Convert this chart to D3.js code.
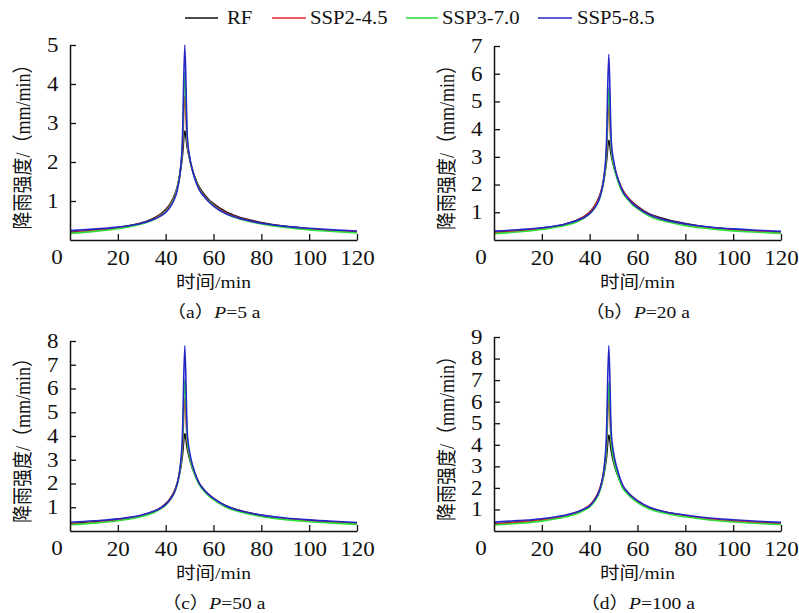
<!DOCTYPE html>
<html><head><meta charset="utf-8">
<script src="https://cdn.jsdelivr.net/npm/d3@7"></script>
<style>
body{margin:0;background:#fff;}
text{font-family:"Liberation Serif","Times New Roman","Noto Sans CJK SC",serif;fill:#111;}
</style></head>
<body><svg id="chart" width="799" height="613"></svg>
<script>
// ---------- DATA ----------
const seriesNames = ["RF", "SSP2-4.5", "SSP3-7.0", "SSP5-8.5"];
const times = [0,10,20,30,35,38,40,42,44,45,46,47,48,49,50,51,52,54,56,58,60,65,70,80,90,100,110,120];
const xTicks = [20,40,60,80,100,120];
const panelCaptions = ["a","b","c","d"];
const returnPeriods = ["5","20","50","100"];
const yMaxes = [5,7,8,9];

// Panel (a) P=5 a
const rfA   = [0.20,0.25,0.32,0.44,0.56,0.67,0.78,0.94,1.20,1.40,1.70,2.15,2.80,2.38,2.08,1.84,1.65,1.36,1.18,1.04,0.93,0.73,0.60,0.45,0.35,0.29,0.24,0.21];
const s245A = [0.19,0.24,0.31,0.43,0.54,0.65,0.75,0.91,1.17,1.38,1.72,2.30,3.70,2.50,2.10,1.83,1.63,1.33,1.15,1.01,0.90,0.70,0.58,0.43,0.34,0.28,0.24,0.20];
const s370A = [0.17,0.22,0.29,0.41,0.52,0.63,0.73,0.89,1.14,1.36,1.72,2.42,4.30,2.58,2.11,1.83,1.62,1.31,1.13,1.00,0.88,0.68,0.56,0.41,0.32,0.26,0.22,0.18];
const s585A = [0.24,0.28,0.33,0.43,0.53,0.62,0.71,0.86,1.10,1.32,1.70,2.55,5.00,2.70,2.14,1.84,1.61,1.29,1.12,0.98,0.87,0.68,0.57,0.43,0.35,0.30,0.26,0.23];
// Panel (b) P=20 a
const rfB   = [0.28,0.34,0.43,0.58,0.73,0.87,1.01,1.22,1.56,1.82,2.20,2.80,3.60,3.06,2.68,2.39,2.15,1.77,1.53,1.36,1.21,0.94,0.79,0.59,0.46,0.39,0.33,0.29];
const s245B = [0.26,0.32,0.41,0.57,0.71,0.86,0.99,1.20,1.54,1.82,2.27,3.04,4.90,3.30,2.77,2.42,2.15,1.76,1.53,1.34,1.19,0.92,0.76,0.57,0.45,0.37,0.32,0.27];
const s370B = [0.23,0.29,0.38,0.53,0.67,0.81,0.94,1.14,1.46,1.74,2.20,3.10,5.50,3.35,2.71,2.34,2.07,1.67,1.45,1.27,1.13,0.86,0.71,0.52,0.41,0.33,0.28,0.24];
const s585B = [0.32,0.37,0.44,0.58,0.71,0.83,0.95,1.15,1.47,1.77,2.28,3.42,6.70,3.62,2.87,2.45,2.16,1.73,1.50,1.31,1.17,0.91,0.76,0.58,0.47,0.40,0.35,0.31];
// Panel (c) P=50 a
const rfC   = [0.31,0.39,0.49,0.65,0.82,0.98,1.15,1.38,1.76,2.06,2.50,3.16,4.10,3.48,3.04,2.70,2.43,2.00,1.74,1.53,1.37,1.07,0.89,0.66,0.52,0.43,0.37,0.33];
const s245C = [0.29,0.36,0.47,0.65,0.82,0.98,1.13,1.37,1.77,2.08,2.60,3.47,5.60,3.78,3.16,2.77,2.47,2.01,1.74,1.53,1.36,1.05,0.87,0.65,0.51,0.42,0.36,0.30];
const s370C = [0.26,0.33,0.43,0.61,0.77,0.94,1.09,1.33,1.70,2.03,2.56,3.61,6.40,3.88,3.15,2.73,2.42,1.95,1.69,1.48,1.32,1.01,0.83,0.61,0.48,0.39,0.33,0.28];
const s585C = [0.37,0.43,0.51,0.67,0.83,0.97,1.11,1.34,1.72,2.06,2.65,3.98,7.80,4.20,3.33,2.86,2.52,2.02,1.74,1.53,1.37,1.06,0.88,0.67,0.55,0.47,0.41,0.36];
// Panel (d) P=100 a
const rfD   = [0.33,0.41,0.52,0.69,0.88,1.03,1.17,1.43,1.84,2.17,2.65,3.38,4.45,3.72,3.20,2.81,2.51,1.99,1.73,1.53,1.37,1.06,0.91,0.71,0.55,0.46,0.40,0.35];
const s245D = [0.31,0.40,0.51,0.71,0.88,1.05,1.20,1.46,1.90,2.26,2.84,3.82,6.20,4.15,3.43,2.97,2.62,2.06,1.79,1.57,1.40,1.09,0.92,0.71,0.56,0.46,0.40,0.33];
const s370D = [0.28,0.35,0.46,0.66,0.81,0.98,1.12,1.37,1.78,2.15,2.73,3.87,6.90,4.15,3.35,2.87,2.51,1.97,1.70,1.49,1.32,1.02,0.86,0.66,0.51,0.42,0.35,0.30];
const s585D = [0.41,0.48,0.57,0.74,0.89,1.04,1.17,1.43,1.85,2.24,2.90,4.39,8.60,4.62,3.62,3.09,2.69,2.08,1.79,1.57,1.41,1.10,0.93,0.74,0.60,0.52,0.45,0.40];

const panelSeries = [
  [rfA, s245A, s370A, s585A],
  [rfB, s245B, s370B, s585B],
  [rfC, s245C, s370C, s585C],
  [rfD, s245D, s370D, s585D]
];

// ---------- STYLE / LAYOUT ----------
const colors = ["#111111", "#e8262a", "#2ee03a", "#2626c8"];
const SX = 1.15; // horizontal stretch of the scanned figure
const layout = [
  {x0:70,  x1:357, yTop:45,  yBot:240},
  {x0:494, x1:781, yTop:46,  yBot:240},
  {x0:70,  x1:357, yTop:341, yBot:531},
  {x0:494, x1:781, yTop:337, yBot:531}
];

const svg = d3.select("#chart");

layout.forEach((L, i) => {
  const x = d3.scaleLinear().domain([0,120]).range([L.x0, L.x1]);
  const y = d3.scaleLinear().domain([0,yMaxes[i]]).range([L.yBot, L.yTop]);
  const g = svg.append("g");

  // lines
  const line = d3.line().x((d,k)=>x(times[k])).y(d=>y(d)).curve(d3.curveMonotoneX);
  panelSeries[i].forEach((vals, s) => {
    g.append("path").datum(vals).attr("d", line)
      .attr("fill","none").attr("stroke",colors[s]).attr("stroke-width",1.6)
      .attr("stroke-linejoin","round");
  });

  // x axis
  const xa = g.append("g").attr("transform",`translate(0,${L.yBot})`)
    .call(d3.axisBottom(x).tickValues(xTicks).tickFormat(d3.format("d"))
      .tickSizeInner(-6).tickSizeOuter(0).tickPadding(11));
  // y axis
  const ya = g.append("g").attr("transform",`translate(${L.x0},0)`)
    .call(d3.axisLeft(y).tickValues(d3.range(1, yMaxes[i]+1)).tickFormat(d3.format("d"))
      .tickSizeInner(-6).tickSizeOuter(0).tickPadding(10));
  [xa, ya].forEach(a => {
    a.select(".domain").attr("stroke","#111").attr("stroke-width",1.5);
    a.selectAll(".tick line").attr("stroke","#111").attr("stroke-width",1.3);
    a.selectAll(".tick text").attr("font-size",20).attr("fill","#111")
      .attr("transform",`scale(${SX},1)`);
  });
  // origin label "0"
  g.append("text").attr("transform",`translate(${L.x0-13},${L.yBot+18}) scale(${SX},1)`)
    .attr("text-anchor","middle").attr("dominant-baseline","central")
    .attr("font-size",20).text("0");

  const cx = (L.x0 + L.x1)/2;
  // x axis title
  g.append("text").attr("transform",`translate(${cx},${L.yBot+42}) scale(${SX},1)`)
    .attr("text-anchor","middle").attr("dominant-baseline","central")
    .attr("font-size",17).text("时间/min");
  // caption
  const cap = g.append("text").attr("transform",`translate(${cx},${L.yBot+72}) scale(${SX},1)`)
    .attr("text-anchor","middle").attr("dominant-baseline","central").attr("font-size",17);
  cap.append("tspan").text(`（${panelCaptions[i]}）`);
  cap.append("tspan").attr("font-style","italic").text("P");
  cap.append("tspan").text(`=${returnPeriods[i]} a`);
  // y axis title
  g.append("text").attr("transform",`translate(${L.x0-47},${(L.yTop+L.yBot)/2}) rotate(-90) scale(1,${SX})`)
    .attr("text-anchor","middle").attr("dominant-baseline","central")
    .attr("font-size",18).text("降雨强度/（mm/min）");
});

// legend
const legendItems = [
  {lx0:185, lx1:218, tx:227},
  {lx0:272, lx1:306, tx:310},
  {lx0:406, lx1:438, tx:442},
  {lx0:538, lx1:572, tx:577}
];
const legY = 18;
seriesNames.forEach((name, s) => {
  const it = legendItems[s];
  svg.append("line").attr("x1",it.lx0).attr("x2",it.lx1).attr("y1",legY).attr("y2",legY)
    .attr("stroke",colors[s]).attr("stroke-width",1.6);
  svg.append("text").attr("transform",`translate(${it.tx},${legY}) scale(${SX},1)`)
    .attr("dominant-baseline","central").attr("font-size",18).text(name);
});
</script></body></html>
